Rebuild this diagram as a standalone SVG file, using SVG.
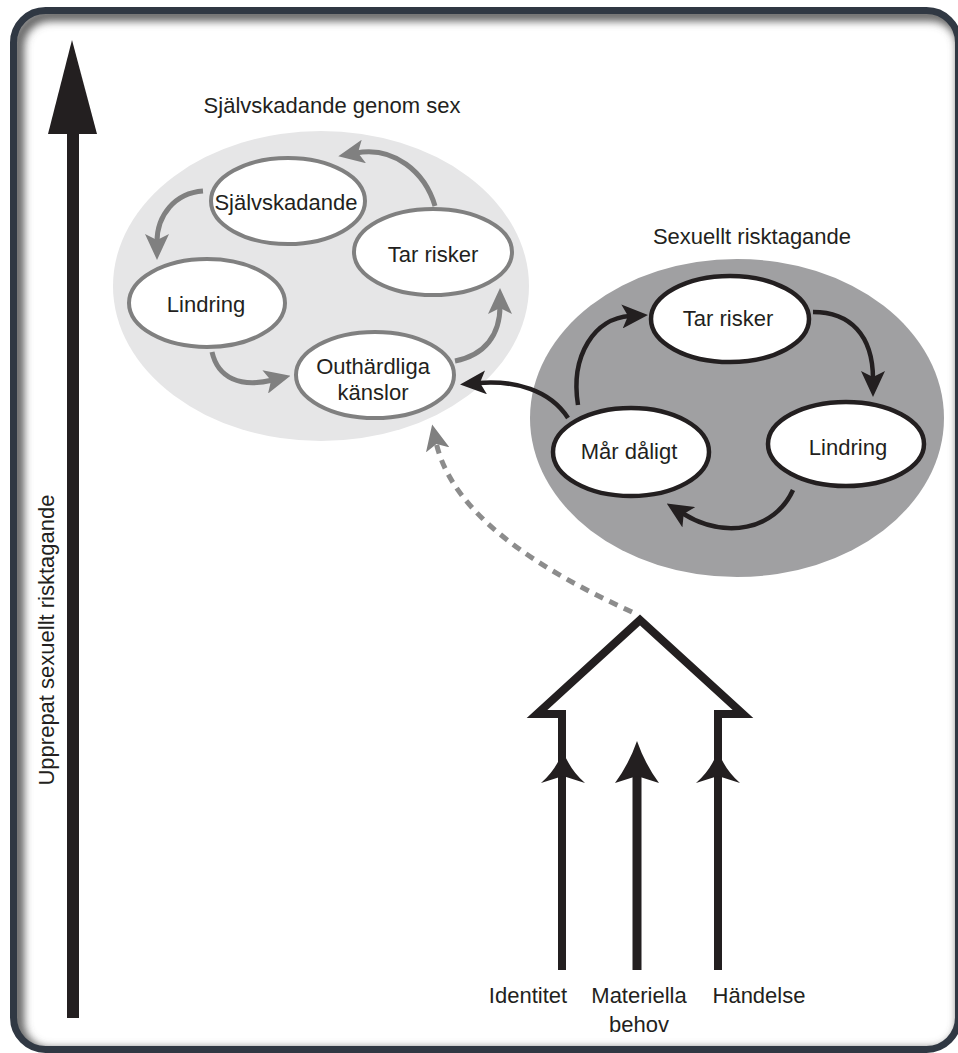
<svg xmlns="http://www.w3.org/2000/svg" width="958" height="1053" viewBox="0 0 958 1053">
<defs>
<style>
text{font-family:"Liberation Sans",Arial,sans-serif;font-size:22px;fill:#231f20;text-anchor:middle}
.ng{fill:#fff;stroke:#808080;stroke-width:4}
.nb{fill:#fff;stroke:#231f20;stroke-width:4.5}
.cg{fill:none;stroke:#808080;stroke-width:5}
.cb{fill:none;stroke:#231f20;stroke-width:4.5}
.cd{fill:none;stroke:#8c8c8c;stroke-width:5;stroke-dasharray:9 7}
.house{fill:none;stroke:#231f20;stroke-width:8;stroke-linejoin:miter;stroke-miterlimit:6}
.shaft{stroke:#231f20;stroke-width:9}
.head{fill:#231f20}
</style>
<marker id="ag" markerUnits="userSpaceOnUse" viewBox="0 0 26 24" markerWidth="26" markerHeight="24" refX="8" refY="12" orient="auto"><path d="M0,0 L26,12 L0,24 L6,12 Z" fill="#808080"/></marker>
<marker id="ab" markerUnits="userSpaceOnUse" viewBox="0 0 26 24" markerWidth="26" markerHeight="24" refX="8" refY="12" orient="auto"><path d="M0,0 L26,12 L0,24 L6,12 Z" fill="#231f20"/></marker>
<marker id="ad" markerUnits="userSpaceOnUse" viewBox="0 0 26 24" markerWidth="26" markerHeight="24" refX="8" refY="12" orient="auto"><path d="M0,0 L26,12 L0,24 L6,12 Z" fill="#808080"/></marker>
<clipPath id="fc"><rect x="13.5" y="10.5" width="945" height="1039" rx="32"/></clipPath>
<filter id="bl" x="-5%" y="-5%" width="110%" height="110%"><feGaussianBlur stdDeviation="4.5"/></filter>
</defs>

<rect width="958" height="1053" fill="#fff"/>

<g id="frame">
<g clip-path="url(#fc)"><rect x="18" y="15" width="945" height="1039" rx="32" fill="none" stroke="#5f5f5f" stroke-width="12" filter="url(#bl)"/></g>
<rect x="13.5" y="10.5" width="945" height="1039" rx="32" fill="none" stroke="#303843" stroke-width="7"/>
</g>

<g id="axis">
<rect x="67" y="130" width="12" height="888" fill="#231f20"/>
<path d="M72,40 L97,134 L48,134 Z" fill="#231f20"/>
<text transform="translate(54,640) rotate(-90)">Upprepat sexuellt risktagande</text>
</g>

<g id="cluster-self">
<ellipse cx="321" cy="286" rx="208" ry="155" fill="#e6e6e7"/>
<text x="332" y="113">Självskadande genom sex</text>
</g>

<g id="cluster-risk">
<ellipse cx="737" cy="418" rx="207" ry="159" fill="#a0a0a2"/>
<text x="752" y="244">Sexuellt risktagande</text>
</g>

<g id="n-sjalvskadande"><ellipse class="ng" cx="288" cy="201" rx="77" ry="43"/><text x="286" y="210">Självskadande</text></g>
<g id="n-tarrisker1"><ellipse class="ng" cx="433" cy="252" rx="79" ry="43"/><text x="433" y="262">Tar risker</text></g>
<g id="n-lindring1"><ellipse class="ng" cx="207" cy="303" rx="78" ry="44"/><text x="206" y="312">Lindring</text></g>
<g id="n-outhardliga"><ellipse class="ng" cx="375" cy="375" rx="79" ry="43"/><text x="373" y="374">Outhärdliga</text><text x="373" y="400">känslor</text></g>

<g id="n-tarrisker2"><ellipse class="nb" cx="730" cy="319" rx="79" ry="43"/><text x="728" y="326">Tar risker</text></g>
<g id="n-lindring2"><ellipse class="nb" cx="846" cy="444" rx="78" ry="42"/><text x="848" y="455">Lindring</text></g>
<g id="n-mardaligt"><ellipse class="nb" cx="631" cy="452" rx="78" ry="44"/><text x="629" y="459">Mår dåligt</text></g>

<g id="n-inputs">
<path class="house" d="M562,970 L562,714 L537,714 L640,620 L743,714 L718,714 L718,970"/>
<line class="shaft" x1="637" y1="770" x2="637" y2="970"/>
<path class="head" d="M563,751 Q570,770 585,783 L563,776 L541,783 Q556,770 563,751 Z"/>
<path class="head" d="M637,741 Q645,764 659,783 L637,776 L615,783 Q629,764 637,741 Z"/>
<path class="head" d="M718,751 Q725,770 740,783 L718,776 L696,783 Q711,770 718,751 Z"/>
<text x="528" y="1003">Identitet</text>
<text x="639" y="1003">Materiella</text>
<text x="639" y="1032">behov</text>
<text x="759" y="1003">Händelse</text>
</g>

<g id="connectors">
<path class="cg" marker-end="url(#ag)" d="M435,206 C425,172 394,146 356,153"/>
<path class="cg" marker-end="url(#ag)" d="M203,191 C175,193 157,215 157,242"/>
<path class="cg" marker-end="url(#ag)" d="M212,352 C218,378 240,388 273,380"/>
<path class="cg" marker-end="url(#ag)" d="M455,361 C485,355 500,335 500,306"/>
<path class="cb" marker-end="url(#ab)" d="M578,405 C570,355 595,318 630,316"/>
<path class="cb" marker-end="url(#ab)" d="M813,312 C850,312 873,335 873,379"/>
<path class="cb" marker-end="url(#ab)" d="M793,490 C775,530 725,540 682,513"/>
<path class="cb" marker-end="url(#ab)" d="M568,418 C550,390 515,380 478,383"/>
<path class="cd" marker-end="url(#ad)" d="M632,612 C540,570 452,515 436,442"/>
</g>
</svg>
